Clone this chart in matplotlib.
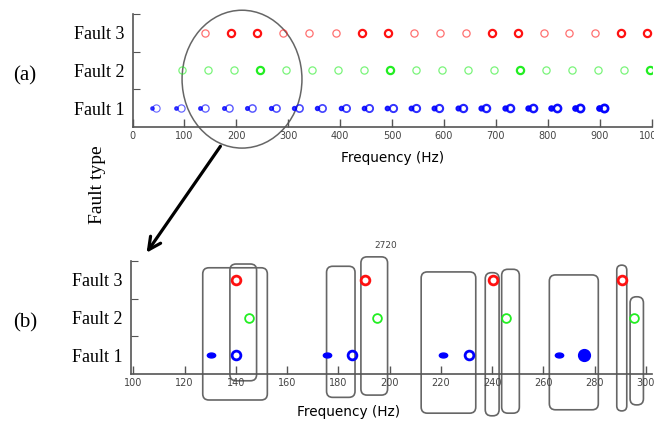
import numpy as np
import matplotlib
matplotlib.use('Agg')
import matplotlib.pyplot as plt
from matplotlib.patches import Ellipse, FancyBboxPatch
from matplotlib.path import Path
from matplotlib.transforms import Affine2D

# harmonic frequencies (Hz)
fault1_dot = [37, 84, 130.5, 175.5, 221, 266, 311, 356, 401, 446, 491, 536, 581, 627,
              672, 717, 762, 807, 852, 898]
fault1_circ = [46, 94, 140, 185.5, 231, 276, 321, 366, 411, 456, 501, 546, 591, 637,
               682, 727, 772, 817, 862, 908]
fault2 = [95, 145, 195, 245.5, 295.5, 346, 396, 446, 497, 546, 596, 647, 697, 747,
          797, 847, 897, 947, 997]
fault3 = [140, 190.5, 240.5, 290.5, 341, 392, 442, 492, 542, 592, 642, 692, 742, 792,
          842, 892, 942, 992]
# which circles look bold in panel (a)
fault2_bold = [0, 0, 0, 1, 0, 0, 0, 0, 1, 0, 0, 0, 0, 1, 0, 0, 0, 0, 1]
fault3_bold = [0, 1, 1, 0, 0, 0, 1, 1, 0, 0, 0, 1, 1, 0, 0, 0, 1, 1]

fault_labels = ['Fault 1', 'Fault 2', 'Fault 3']
xticks_a = [0, 100, 200, 300, 400, 500, 600, 700, 800, 900, 1000]
xticks_b = [100, 120, 140, 160, 180, 200, 220, 240, 260, 280, 300]

# highlight boxes in panel (b): f_start, f_end, y_low, y_high
boxes = [(127.1, 152.3, -0.19, 3.32), (137.7, 148.1, 0.32, 3.42),
         (175.4, 186.5, -0.12, 3.36), (188.8, 199.2, -0.06, 3.61),
         (212.3, 233.6, -0.54, 3.21), (237.3, 242.7, -0.61, 3.19),
         (243.7, 250.6, -0.54, 3.28), (262.3, 281.4, -0.45, 3.13),
         (288.6, 292.5, -0.48, 3.39), (293.8, 299.0, -0.32, 2.55)]

W, H = 654, 423
fig = plt.figure(figsize=(W / 100, H / 100), dpi=100)
serif = 'Liberation Serif'
tickfont = ['Liberation Sans Narrow', 'DejaVu Sans']
axc = '#555555'

blue, green, red = '#0000ff', '#22ee22', '#ff1111'
dot_path = Path.unit_circle().transformed(Affine2D().scale(1.7, 1.0))


def style_axes(ax, xticks):
    for s in ['top', 'right']:
        ax.spines[s].set_visible(False)
    for s in ['left', 'bottom']:
        ax.spines[s].set_color(axc)
        ax.spines[s].set_linewidth(1.2)
    ax.set_ylim(0.5, 3.5)
    ax.set_yticks([1.5, 2.5, 3.5])
    ax.set_yticklabels([])
    ax.set_yticks([1, 2, 3], minor=True)
    ax.set_yticklabels(fault_labels, minor=True, family=serif, fontsize=13)
    ax.tick_params(axis='y', which='minor', length=0, pad=6)
    ax.tick_params(axis='y', which='major', direction='in', length=5, color=axc)
    ax.set_xticks(xticks)
    ax.set_xticklabels([str(t) for t in xticks], family=tickfont, fontsize=7, color='#444444')
    ax.tick_params(axis='x', direction='in', length=6, color=axc, pad=3, width=1)
    ax.set_facecolor('none')


# ---- panel (a)
ax1 = fig.add_axes([132.5 / W, 1 - 127 / H, 519 / W, 113 / H])
style_axes(ax1, xticks_a)
ax1.set_xlim(0, 1000)
for i, f in enumerate(fault1_circ):
    w = 0.8 + 1.2 * i / len(fault1_circ)
    ax1.plot(f, 1, 'o', mfc='none', mec=blue, ms=5.2, mew=w, alpha=0.6 + 0.4 * i / 20)
    ax1.plot(fault1_dot[i], 1, 'o', color=blue, ms=2.4 + 1.5 * i / 20, alpha=0.7 + 0.3 * i / 20)
for f, b in zip(fault2, fault2_bold):
    ax1.plot(f, 2, 'o', mfc='none', mec=green, ms=5.2, mew=1.6 if b else 0.9, alpha=1 if b else 0.6)
for f, b in zip(fault3, fault3_bold):
    ax1.plot(f, 3, 'o', mfc='none', mec=red, ms=5.2, mew=1.6 if b else 0.9, alpha=1 if b else 0.6)
ax1.set_xlabel('Frequency (Hz)', family='DejaVu Sans', fontsize=9.8)
ax1.xaxis.set_label_coords((393 - 132.5) / 519, -(151 - 127) / 113, transform=ax1.transAxes)
ax1.add_patch(Ellipse((211, 1.77), 231, 3.66, fill=False, ec='#666666', lw=1.1, clip_on=False))

# ---- panel (b)
ax2 = fig.add_axes([130.7 / W, 1 - 374 / H, 521.7 / W, 113 / H])
ax2.spines['bottom'].set_position(('data', 0.5))
style_axes(ax2, xticks_b)
ax2.set_xlim(99, 302.5)
for f in fault3:
    if 99 < f < 302:
        ax2.plot(f, 3, 'o', mfc='none', mec=red, ms=6.3, mew=2.0)
for f in fault2:
    if 99 < f < 302:
        ax2.plot(f, 2, 'o', mfc='none', mec=green, ms=6.3, mew=1.3)
for f in fault1_dot:
    if 99 < f < 302:
        ax2.plot(f, 1, marker=dot_path, color=blue, ms=6, ls='none')
for f in fault1_circ:
    if 99 < f < 302:
        filled = f > 270
        ax2.plot(f, 1, 'o', mfc=blue if filled else 'none', mec=blue,
                 ms=7.5 if filled else 6.3, mew=2.0)
ax2.set_xlabel('Frequency (Hz)', family='DejaVu Sans', fontsize=9.8)
ax2.xaxis.set_label_coords((348.5 - 130.7) / 521.7, -(405 - 374) / 113, transform=ax2.transAxes)

asp = 2.5635 / 37.67
for f0, f1, y0, y1 in boxes:
    r = min(2.4, (f1 - f0) / 2)
    ax2.add_patch(FancyBboxPatch((f0, y0), f1 - f0, y1 - y0,
                                 boxstyle=f'round,pad=0,rounding_size={r}',
                                 mutation_aspect=asp, fill=False, ec='#666666',
                                 lw=1.2, clip_on=False))
ax2.text(198.3, 3.9, '2720', family=tickfont, fontsize=6.5, color='#444444',
         ha='center', va='center')

# labels and arrow
fig.text(25 / W, 1 - 76 / H, '(a)', family=serif, fontsize=15, ha='center', va='center')
fig.text(25 / W, 1 - 323 / H, '(b)', family=serif, fontsize=15, ha='center', va='center')
fig.text(98 / W, 1 - 185 / H, 'Fault type', family=serif, fontsize=14, rotation=90,
         ha='center', va='center')
ax1.annotate('', xy=(145, H - 255), xycoords='figure pixels',
             xytext=(222, H - 144), textcoords='figure pixels',
             arrowprops=dict(arrowstyle='->', lw=2.3, color='black', mutation_scale=22),
             annotation_clip=False)

fig.savefig('out.png', dpi=100)
